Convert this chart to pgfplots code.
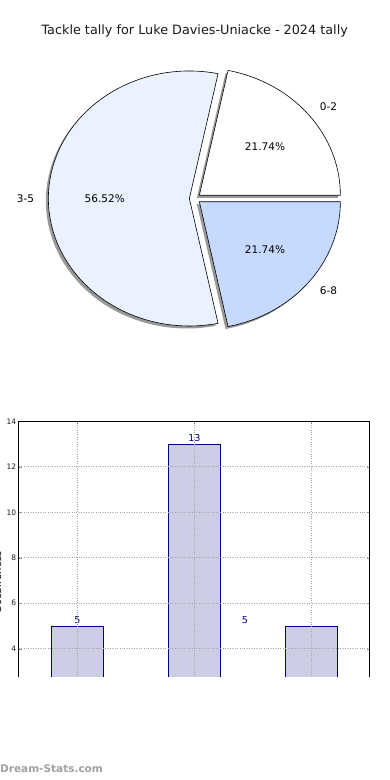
\documentclass[border=0pt]{standalone}
\usepackage{fontspec}
\setmainfont{DejaVu Sans}
\usepackage{pgfplots}
\pgfplotsset{compat=1.18}
\definecolor{wA}{HTML}{FFFFFF}
\definecolor{wB}{HTML}{EAF1FF}
\definecolor{wC}{HTML}{C6D9FF}
\definecolor{barfill}{HTML}{CCCCE5}
\definecolor{baredge}{HTML}{000080}
\definecolor{wm}{HTML}{A0A0A0}
\begin{document}
\begin{tikzpicture}[x=1pt,y=1pt]
\useasboundingbox (0,0) rectangle (390,780);
% ---- pie data: tackle tallies per band
\def\va{5}\def\vb{13}\def\vc{5}
\pgfmathsetmacro\tot{\va+\vb+\vc}
\pgfmathsetmacro\aB{360*\va/\tot}
\pgfmathsetmacro\aC{360*(\va+\vb)/\tot}
\def\rx{141}\def\ry{127.5}\def\cx{195}\def\cy{581.5}\def\ex{0.04}
\pgfmathsetmacro\mA{\aB/2}
\pgfmathsetmacro\mB{(\aB+\aC)/2}
\pgfmathsetmacro\mC{(\aC+360)/2}
\pgfmathsetmacro\oxA{\cx+\ex*\rx*cos(\mA)}\pgfmathsetmacro\oyA{\cy+\ex*\ry*sin(\mA)}
\pgfmathsetmacro\oxB{\cx+\ex*\rx*cos(\mB)}\pgfmathsetmacro\oyB{\cy+\ex*\ry*sin(\mB)}
\pgfmathsetmacro\oxC{\cx+\ex*\rx*cos(\mC)}\pgfmathsetmacro\oyC{\cy+\ex*\ry*sin(\mC)}
\pgfmathsetmacro\sxA{\oxA+\rx}\pgfmathsetmacro\syA{\oyA}
\pgfmathsetmacro\sxB{\oxB+\rx*cos(\aB)}\pgfmathsetmacro\syB{\oyB+\ry*sin(\aB)}
\pgfmathsetmacro\sxC{\oxC+\rx*cos(\aC)}\pgfmathsetmacro\syC{\oyC+\ry*sin(\aC)}
% label positions
\pgfmathsetmacro\lxA{\oxA+1.1*\rx*cos(\mA)}\pgfmathsetmacro\lyA{\oyA+1.1*\ry*sin(\mA)}
\pgfmathsetmacro\lxB{\oxB+1.1*\rx*cos(\mB)}\pgfmathsetmacro\lyB{\oyB+1.1*\ry*sin(\mB)}
\pgfmathsetmacro\lxC{\oxC+1.1*\rx*cos(\mC)}\pgfmathsetmacro\lyC{\oyC+1.1*\ry*sin(\mC)}
\pgfmathsetmacro\pxA{\oxA+0.6*\rx*cos(\mA)}\pgfmathsetmacro\pyA{\oyA+0.6*\ry*sin(\mA)}
\pgfmathsetmacro\pxB{\oxB+0.6*\rx*cos(\mB)}\pgfmathsetmacro\pyB{\oyB+0.6*\ry*sin(\mB)}
\pgfmathsetmacro\pxC{\oxC+0.6*\rx*cos(\mC)}\pgfmathsetmacro\pyC{\oyC+0.6*\ry*sin(\mC)}
\begin{axis}[at={(0pt,0pt)}, anchor=origin, hide axis, x=1pt, y=1pt,
  xmin=0, xmax=390, ymin=0, ymax=780, enlargelimits=false, clip=false]
  \begin{scope}[xshift=-2.5pt,yshift=-2.5pt]
    \fill[black!40] (axis cs:\oxA,\oyA) -- (axis cs:\sxA,\syA) arc[start angle=0,end angle=\aB,x radius=\rx pt,y radius=\ry pt] -- cycle;
    \fill[black!40] (axis cs:\oxB,\oyB) -- (axis cs:\sxB,\syB) arc[start angle=\aB,end angle=\aC,x radius=\rx pt,y radius=\ry pt] -- cycle;
    \fill[black!40] (axis cs:\oxC,\oyC) -- (axis cs:\sxC,\syC) arc[start angle=\aC,end angle=360,x radius=\rx pt,y radius=\ry pt] -- cycle;
  \end{scope}
  \filldraw[fill=wA,draw=black,line width=0.6pt,line join=miter] (axis cs:\oxA,\oyA) -- (axis cs:\sxA,\syA) arc[start angle=0,end angle=\aB,x radius=\rx pt,y radius=\ry pt] -- cycle;
  \filldraw[fill=wB,draw=black,line width=0.6pt,line join=miter] (axis cs:\oxB,\oyB) -- (axis cs:\sxB,\syB) arc[start angle=\aB,end angle=\aC,x radius=\rx pt,y radius=\ry pt] -- cycle;
  \filldraw[fill=wC,draw=black,line width=0.6pt,line join=miter] (axis cs:\oxC,\oyC) -- (axis cs:\sxC,\syC) arc[start angle=\aC,end angle=360,x radius=\rx pt,y radius=\ry pt] -- cycle;
  \node[anchor=west,font=\fontsize{10.5}{12}\selectfont,inner sep=0pt] at (axis cs:\lxA,\lyA) {0-2};
  \node[anchor=east,font=\fontsize{10.5}{12}\selectfont,inner sep=0pt] at (axis cs:\lxB,\lyB) {3-5};
  \node[anchor=west,font=\fontsize{10.5}{12}\selectfont,inner sep=0pt] at (axis cs:\lxC,\lyC) {6-8};
  \node[font=\fontsize{10.5}{12}\selectfont,inner sep=0pt] at (axis cs:\pxA,\pyA) {21.74\%};
  \node[font=\fontsize{10.5}{12}\selectfont,inner sep=0pt] at (axis cs:\pxB,\pyB) {56.52\%};
  \node[font=\fontsize{10.5}{12}\selectfont,inner sep=0pt] at (axis cs:\pxC,\pyC) {21.74\%};
\end{axis}
\node[anchor=base,font=\fontsize{12.8}{15}\selectfont,inner sep=0pt,text=black!90] at (194.7,745.3) {Tackle tally for Luke Davies-Uniacke - 2024 tally};
% ---- bar chart
\begin{axis}[at={(77.3pt,40.3pt)}, anchor=origin, scale only axis,
  width=351pt, height=318.4pt,
  xmin=-0.5, xmax=2.5, ymin=0, ymax=14,
  xtick={0,1,2}, xticklabels={}, ytick={0,2,...,14},
  grid=major, major grid style={dotted, black!35, line width=0.8pt},
  axis on top,
  tick align=inside, major tick length=3pt, tick style={black!45},
  yticklabel style={font=\fontsize{7.5}{8}\selectfont, text=black!90, xshift=1pt},
  /pgf/number format/assume math mode=true,
  axis line style={black, line width=0.8pt}]
  \addplot[ybar, bar width=0.445, fill=barfill, draw=baredge, line width=0.6pt] coordinates {(0,5) (1,13) (2,5)};
  \node[anchor=south,text=baredge,font=\fontsize{9.5}{11}\selectfont,inner sep=2pt] at (axis cs:0,5) {5};
  \node[anchor=south,text=baredge,font=\fontsize{9.5}{11}\selectfont,inner sep=2pt] at (axis cs:1,13) {13};
  \node[anchor=south,text=baredge,font=\fontsize{9.5}{11}\selectfont,inner sep=2pt] at (axis cs:1.433,5) {5};
\end{axis}
\node[rotate=90,anchor=south,inner sep=0pt,font=\fontsize{10}{12}\selectfont] at (1.5,198) {Occurrences};
\fill[white] (-20,-20) rectangle (410,102.5);
\node[anchor=base west,inner sep=0pt,text=wm,font=\bfseries\fontsize{10.5}{12}\selectfont] at (0,7) {Dream-Stats.com};
\end{tikzpicture}
\end{document}
